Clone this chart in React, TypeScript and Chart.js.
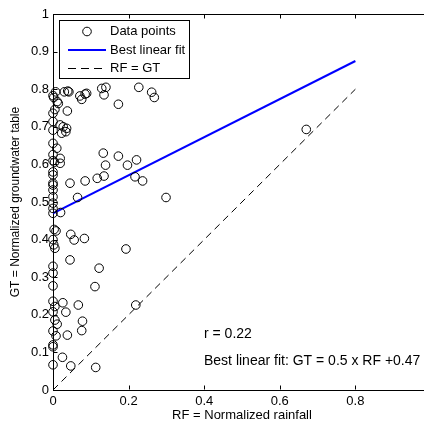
import React, { useEffect, useRef } from "react";
import { Chart, registerables } from "chart.js";

Chart.register(...registerables);

// Normalized rainfall (RF) of each observation
const rfValues = [
  0, 0.002, 0.007, 0.011, 0.014, 0.005, 0, 0, 0, 0, 0.01, 0, 0, 0.019, 0.019,
  0, 0, 0, 0, 0, 0, 0, 0, 0, 0.02, 0.003, 0.008, 0, 0.002, 0.005, 0, 0, 0, 0,
  0.005, 0, 0.005, 0.011, 0, 0.008, 0, 0, 0, 0.03, 0.039, 0.042, 0.071, 0.076,
  0.085, 0.089, 0.129, 0.14, 0.135, 0.173, 0.227, 0.261, 0.268, 0.038, 0.019,
  0.027, 0.036, 0.023, 0.034, 0.045, 0.085, 0.117, 0.135, 0.133, 0.139, 0.173,
  0.197, 0.221, 0.217, 0.237, 0.065, 0.299, 0.047, 0.056, 0.083, 0.193, 0.045,
  0.122, 0.111, 0.026, 0.067, 0.034, 0.219, 0.078, 0.076, 0.038, 0.025, 0.047,
  0.113, 0.67, 0.004,
];
// Normalized groundwater table (GT) of each observation
const gtValues = [
  0.783, 0.778, 0.793, 0.767, 0.762, 0.746, 0.736, 0.714, 0.691, 0.656, 0.643,
  0.626, 0.61, 0.616, 0.603, 0.58, 0.572, 0.55, 0.545, 0.532, 0.514, 0.497,
  0.483, 0.47, 0.472, 0.427, 0.423, 0.4, 0.386, 0.377, 0.329, 0.311, 0.277,
  0.236, 0.222, 0.208, 0.186, 0.175, 0.157, 0.144, 0.12, 0.115, 0.067, 0.793,
  0.795, 0.793, 0.782, 0.773, 0.787, 0.789, 0.802, 0.805, 0.785, 0.76, 0.805,
  0.792, 0.778, 0.742, 0.705, 0.7, 0.696, 0.683, 0.687, 0.55, 0.556, 0.563,
  0.569, 0.63, 0.598, 0.622, 0.598, 0.612, 0.567, 0.556, 0.512, 0.512, 0.414,
  0.399, 0.403, 0.375, 0.346, 0.324, 0.275, 0.232, 0.226, 0.207, 0.226, 0.183,
  0.158, 0.146, 0.087, 0.064, 0.06, 0.693, 0.606,
];

const fitX = [0, 0.8];
const fitY = [0.47, 0.875];
const refX = [0, 0.8];
const refY = [0, 0.8];

const xTicks = [0, 0.2, 0.4, 0.6, 0.8, 1];
const yTicks = [0, 0.1, 0.2, 0.3, 0.4, 0.5, 0.6, 0.7, 0.8, 0.9, 1];

const legendLabels = ["Data points", "Best linear fit", "RF = GT"];
const annotationLines = ["r = 0.22", "Best linear fit: GT = 0.5 x RF +0.47"];
const xTitle = "RF = Normalized rainfall";
const yTitle = "GT = Normalized groundwater table";

const FONT = "'Liberation Sans', Arial, Helvetica, sans-serif";

const fmt = (v: number) => String(Math.round(v * 10) / 10);

const axesPlugin = {
  id: "matlabAxes",
  afterDraw(chart: any) {
    const { ctx, chartArea, scales } = chart;
    const xs = scales.x;
    const ys = scales.y;
    const tl = 4;
    ctx.save();
    ctx.strokeStyle = "#000";
    ctx.lineWidth = 1;
    // top border
    const top = Math.round(chartArea.top) + 0.5;
    const bottom = Math.round(chartArea.bottom) - 0.5;
    const left = Math.round(chartArea.left) + 0.5;
    ctx.beginPath();
    ctx.moveTo(chartArea.left, top);
    ctx.lineTo(chartArea.right, top);
    ctx.stroke();
    // inward tick marks
    ctx.beginPath();
    xTicks.forEach((t) => {
      const px = Math.round(xs.getPixelForValue(t)) + 0.5;
      ctx.moveTo(px, bottom);
      ctx.lineTo(px, bottom - tl);
      ctx.moveTo(px, top);
      ctx.lineTo(px, top + tl);
    });
    yTicks.forEach((t) => {
      const py = Math.round(ys.getPixelForValue(t)) + 0.5;
      ctx.moveTo(left, py);
      ctx.lineTo(left + tl, py);
    });
    ctx.stroke();

    // legend box
    const bx = 59.5, by = 20.5, bw = 130, bh = 58;
    ctx.fillStyle = "#fff";
    ctx.fillRect(bx, by, bw, bh);
    ctx.strokeRect(bx, by, bw, bh);
    const rows = [31.5, 50, 68.5];
    const ds = chart.data.datasets;
    ctx.font = `13px ${FONT}`;
    ctx.textBaseline = "middle";
    ctx.textAlign = "left";
    // row 1: marker
    ctx.beginPath();
    ctx.arc(87, rows[0], 4.3, 0, Math.PI * 2);
    ctx.strokeStyle = ds[0].borderColor;
    ctx.lineWidth = 1;
    ctx.stroke();
    // row 2: fit line
    ctx.beginPath();
    ctx.moveTo(68, rows[1]);
    ctx.lineTo(106, rows[1]);
    ctx.strokeStyle = ds[1].borderColor;
    ctx.lineWidth = ds[1].borderWidth;
    ctx.stroke();
    // row 3: dashed line
    ctx.beginPath();
    ctx.setLineDash([8, 5]);
    ctx.moveTo(68, rows[2]);
    ctx.lineTo(106, rows[2]);
    ctx.strokeStyle = ds[2].borderColor;
    ctx.lineWidth = ds[2].borderWidth;
    ctx.stroke();
    ctx.setLineDash([]);
    ctx.fillStyle = "#000";
    legendLabels.forEach((l, i) => ctx.fillText(l, 110, rows[i]));

    // annotations
    ctx.font = `14px ${FONT}`;
    ctx.fillText(annotationLines[0], 204, 334);
    ctx.fillText(annotationLines[1], 204, 361);
    ctx.restore();
  },
};

export default function App() {
  const ref = useRef<HTMLCanvasElement | null>(null);
  useEffect(() => {
    const canvas = ref.current;
    if (!canvas) return;
    const chart = new Chart(canvas, {
      type: "scatter",
      data: {
        datasets: [
          {
            label: legendLabels[0],
            data: rfValues.map((x, i) => ({ x, y: gtValues[i] })),
            pointStyle: "circle",
            pointRadius: 4.3,
            pointBorderWidth: 1,
            borderColor: "#000",
            backgroundColor: "rgba(0,0,0,0)",
            pointBackgroundColor: "rgba(0,0,0,0)",
            pointBorderColor: "#000",
            showLine: false,
            clip: false,
          } as any,
          {
            label: legendLabels[1],
            data: fitX.map((x, i) => ({ x, y: fitY[i] })),
            showLine: true,
            borderColor: "#0000ff",
            borderWidth: 2,
            pointRadius: 0,
            fill: false,
          },
          {
            label: legendLabels[2],
            data: refX.map((x, i) => ({ x, y: refY[i] })),
            showLine: true,
            borderColor: "#000",
            borderWidth: 1,
            borderDash: [7, 5],
            pointRadius: 0,
            fill: false,
          },
        ],
      },
      options: {
        responsive: false,
        animation: false,
        devicePixelRatio: 1,
        layout: { padding: { left: 0, right: 9, top: 14, bottom: 0 } },
        plugins: { legend: { display: false }, tooltip: { enabled: false } },
        scales: {
          x: {
            type: "linear",
            position: "bottom",
            min: 0,
            max: 1,
            afterFit: (s: any) => {
              s.height = 36;
            },
            afterBuildTicks: (s: any) => {
              s.ticks = xTicks.map((v) => ({ value: v }));
            },
            grid: { display: false, drawTicks: false },
            border: { display: true, color: "#000", width: 1 },
            ticks: {
              autoSkip: false,
              maxRotation: 0,
              padding: 4,
              color: "#000",
              font: { family: FONT, size: 13 },
              callback: (v: any) => fmt(Number(v)),
            },
            title: {
              display: true,
              text: xTitle,
              color: "#000",
              font: { family: FONT, size: 13 },
              padding: { top: 0, bottom: 3 },
            },
          },
          y: {
            type: "linear",
            position: "left",
            min: 0,
            max: 1,
            afterFit: (s: any) => {
              s.width = 53;
            },
            afterBuildTicks: (s: any) => {
              s.ticks = yTicks.map((v) => ({ value: v }));
            },
            grid: { display: false, drawTicks: false },
            border: { display: true, color: "#000", width: 1 },
            ticks: {
              autoSkip: false,
              padding: 4,
              color: "#000",
              font: { family: FONT, size: 13 },
              callback: (v: any) => fmt(Number(v)),
            },
            title: {
              display: true,
              text: yTitle,
              color: "#000",
              font: { family: FONT, size: 12 },
              padding: { top: 8, bottom: 0 },
            },
          },
        },
      },
      plugins: [axesPlugin],
    });
    return () => chart.destroy();
  }, []);
  return (
    <div
      style={{
        position: "fixed",
        left: 0,
        top: 0,
        width: 424,
        height: 426,
        overflow: "hidden",
        background: "#fff",
      }}
    >
      <canvas ref={ref} width={440} height={426} style={{ display: "block" }} />
    </div>
  );
}
